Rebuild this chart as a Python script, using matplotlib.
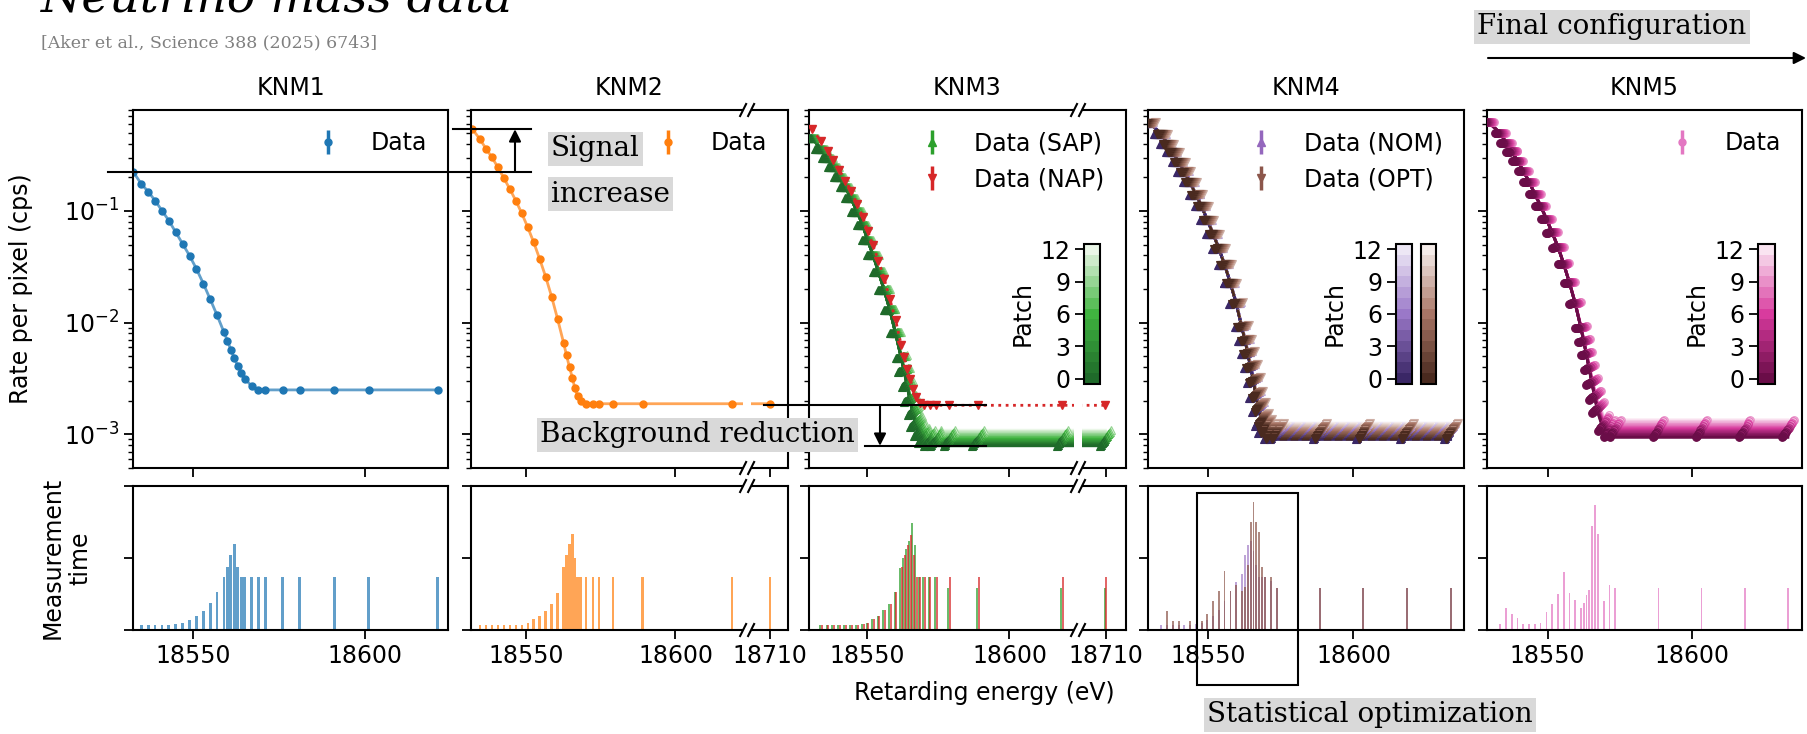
import numpy as np
import matplotlib
matplotlib.use("Agg")
import matplotlib.pyplot as plt
from matplotlib.colors import ListedColormap, BoundaryNorm, LinearSegmentedColormap
from matplotlib.cm import ScalarMappable
from matplotlib.patches import Rectangle, FancyArrowPatch
from matplotlib.lines import Line2D
from matplotlib.transforms import IdentityTransform

# ======================= data =======================
panel_names = ["KNM1", "KNM2", "KNM3", "KNM4", "KNM5"]
patch_ticks = [0, 3, 6, 9, 12]

knm1_energy = [18532.6, 18535, 18537, 18539, 18541, 18543, 18545, 18547, 18549, 18551,
               18553, 18555, 18557, 18559, 18560, 18561, 18562, 18563, 18564, 18565,
               18567, 18569, 18571, 18576, 18581, 18591, 18601, 18621]
knm1_rate = [0.225, 0.1745, 0.149, 0.1237, 0.1007, 0.0819, 0.0644, 0.0507, 0.0398, 0.0303,
             0.0224, 0.0162, 0.01164, 0.0082, 0.0069, 0.0057, 0.0048, 0.0041, 0.00357, 0.00316,
             0.00271, 0.00251, 0.0025, 0.0025, 0.0025, 0.0025, 0.0025, 0.0025]
knm1_time = [0, 0.033, 0.033, 0.033, 0.033, 0.033, 0.04, 0.051, 0.07, 0.096,
             0.133, 0.189, 0.263, 0.366, 0.44, 0.52, 0.6, 0.44, 0.366, 0.366,
             0.366, 0.366, 0.366, 0.366, 0.366, 0.366, 0.366, 0.366]

knm2_energy = [18532, 18534.5, 18536.5, 18538.5, 18540.5, 18542.5, 18544.5, 18546.5, 18548.5, 18550.5,
               18552.5, 18554.5, 18556.5, 18558.5, 18560.5, 18562.5, 18563.5, 18564.5, 18565.5, 18566.3,
               18567.2, 18568.2, 18570, 18572.3, 18574.4, 18579, 18589, 18619, 18710]
knm2_rate = [0.538, 0.438, 0.361, 0.302, 0.246, 0.197, 0.157, 0.1237, 0.0953, 0.0714,
             0.0524, 0.0372, 0.0258, 0.0171, 0.0108, 0.00662, 0.0051, 0.00398, 0.00318, 0.00258,
             0.00221, 0.00199, 0.00188, 0.00188, 0.00188, 0.00188, 0.00188, 0.00188, 0.00188]
knm2_time = [0, 0.033, 0.033, 0.033, 0.033, 0.033, 0.033, 0.033, 0.037, 0.051,
             0.075, 0.10, 0.133, 0.184, 0.26, 0.44, 0.52, 0.6, 0.67, 0.5,
             0.366, 0.366, 0.366, 0.366, 0.366, 0.366, 0.366, 0.366, 0.366]

knm3_energy = [18531, 18534, 18536.3, 18538.3, 18540.4, 18542.5, 18544.5, 18546.6, 18548.6, 18550.3,
               18552.2, 18554.1, 18556.1, 18558.1, 18560.1, 18562.1, 18563.1, 18564.2, 18565.2, 18566.3,
               18567.3, 18568.5, 18570, 18572, 18574.2, 18578.9, 18589, 18618.5, 18709.8]
knm3_sap_rate = [0.448, 0.357, 0.296, 0.249, 0.2, 0.163, 0.13, 0.0986, 0.075, 0.055,
                 0.0404, 0.0286, 0.0196, 0.013, 0.008, 0.0048, 0.00365, 0.00268, 0.00196, 0.00149,
                 0.00117, 0.00096, 0.00083, 0.00079, 0.00079, 0.00079, 0.00079, 0.00079, 0.00079]
knm3_nap_rate = [0.538, 0.418, 0.347, 0.286, 0.233, 0.187, 0.152, 0.1155, 0.089, 0.0667,
                 0.0493, 0.0359, 0.0248, 0.0163, 0.01057, 0.0063, 0.0049, 0.00388, 0.00311, 0.00257,
                 0.00218, 0.00192, 0.00183, 0.00182, 0.00182, 0.00182, 0.00182, 0.00182, 0.00182]
knm3_sap_time = [0, 0.033, 0.033, 0.033, 0.033, 0.033, 0.033, 0.033, 0.04, 0.051,
                 0.077, 0.098, 0.14, 0.184, 0.261, 0.43, 0.5, 0.56, 0.62, 0.74,
                 0.59, 0.366, 0.366, 0.366, 0.366, 0.29, 0.29, 0.29, 0.29]
knm3_nap_time = [0, 0.033, 0.033, 0.033, 0.033, 0.033, 0.033, 0.033, 0.04, 0.051,
                 0.077, 0.098, 0.14, 0.184, 0.261, 0.44, 0.52, 0.59, 0.66, 0.52,
                 0.366, 0.366, 0.366, 0.366, 0.366, 0.366, 0.366, 0.366, 0.366]
knm3_patch_bg = [0.0, 0.00002, 0.00004, 0.00006, 0.00008, 0.0001, 0.00012,
                 0.00015, 0.00018, 0.00021, 0.00024, 0.00027, 0.0003]

knm4_energy = [18529.5, 18533.8, 18535.8, 18537.7, 18539.8, 18541.7, 18543.7, 18545.7, 18547.7, 18549.6,
               18551.7, 18553.6, 18555.6, 18557.6, 18559.6, 18561.5, 18562.7, 18563.6, 18564.6, 18565.6,
               18566.5, 18567.5, 18568.6, 18569.6, 18571.5, 18573.6, 18588.4, 18603.4, 18618.4, 18633.5]
knm4_rate = [0.618, 0.49, 0.40, 0.335, 0.275, 0.225, 0.18, 0.14, 0.11, 0.083,
             0.062, 0.046, 0.033, 0.0225, 0.0148, 0.0091, 0.0068, 0.0052, 0.0039, 0.0029,
             0.0021, 0.0016, 0.0012, 0.00102, 0.0009, 0.0009, 0.0009, 0.0009, 0.0009, 0.0009]
knm4_nom_time = [0, 0.033, 0.033, 0.033, 0.033, 0.033, 0.033, 0.04, 0.05, 0.07,
                 0.1, 0.14, 0.2, 0.27, 0.33, 0.39, 0.52, 0.59, 0.62, 0.55,
                 0.45, 0.37, 0.37, 0.37, 0.34, 0.29, 0.29, 0.29, 0.29, 0.29]
knm4_opt_time = [0, 0, 0.133, 0.063, 0.063, 0, 0.063, 0, 0.063, 0.11,
                 0.2, 0.27, 0.41, 0.27, 0.31, 0.27, 0.3, 0.45, 0.75, 0.89,
                 0.75, 0.68, 0.44, 0.37, 0.37, 0.29, 0.29, 0.29, 0.29, 0.29]
knm4_patch_bg = [0.0, 0.00003, 0.00006, 0.00009, 0.00012, 0.00015, 0.00018,
                 0.00021, 0.00024, 0.00027, 0.0003, 0.00033, 0.00036]

knm5_energy = [18529.3, 18533.6, 18535.6, 18537.6, 18539.6, 18541.6, 18543.6, 18545.6, 18547.6, 18549.6,
               18551.6, 18553.7, 18555.6, 18557.6, 18559.6, 18561.6, 18562.6, 18563.5, 18564.5, 18565.5,
               18566.5, 18567.5, 18569.5, 18571.5, 18573.5, 18588.5, 18603.4, 18618.4, 18633.4]
knm5_rate = [0.63, 0.497, 0.409, 0.34, 0.2806, 0.228, 0.1828, 0.141, 0.111, 0.0848,
             0.064, 0.047, 0.0335, 0.0227, 0.0148, 0.0089, 0.0067, 0.0051, 0.00377, 0.00277,
             0.00205, 0.00155, 0.00107, 0.00094, 0.00094, 0.00094, 0.00094, 0.00094, 0.00094]
knm5_time = [0, 0.04, 0.156, 0.114, 0.086, 0.04, 0.04, 0.04, 0.047, 0.126,
             0.18, 0.25, 0.40, 0.26, 0.21, 0.15, 0.19, 0.245, 0.28, 0.72,
             0.865, 0.67, 0.2, 0.315, 0.29, 0.29, 0.29, 0.29, 0.29]
knm5_patch_bg = [0.0, 0.00003, 0.00006, 0.00009, 0.00012, 0.00015, 0.00018,
                 0.00021, 0.00025, 0.00029, 0.00033, 0.00037, 0.00041]

# ======================= layout / style =======================
W, H, DPI = 1808, 734, 100
FS = 17
plt.rcParams.update({
    "font.family": ["DejaVu Sans"],
    "axes.linewidth": 1.5,
})
SERIF = ["DejaVu Serif"]
GREYBOX = dict(boxstyle="square,pad=0.12", facecolor="#d9d9d9", edgecolor="none")

fig = plt.figure(figsize=(W / DPI, H / DPI), dpi=DPI)
fig.patch.set_facecolor("white")
ID = IdentityTransform()


def rect(x0, y0, x1, y1):
    return [x0 / W, 1 - y1 / H, (x1 - x0) / W, (y1 - y0) / H]


def dy(py):
    return H - py


panel_x = [(133, 448), (471, 788), (809, 1126), (1148, 1464), (1487, 1802)]
top_y, bot_y = (110, 468), (486, 630)
xlims = [(18532.6, 18624), (18531.5, 18716), (18529.8, 18717), (18529.2, 18638.1), (18529.0, 18638.3)]
breaks = [None, (18624, 18702.3), (18624, 18700.2), None, None]
xticks = [[18550, 18600], [18550, 18600, 18710], [18550, 18600, 18710], [18550, 18600], [18550, 18600]]
patch_dx = 0.33
light_to_dark = list(range(12, -1, -1))


def make_break(b1, b2):
    gap = b2 - b1

    def fwd(x):
        x = np.asarray(x, dtype=float)
        return np.where(x <= b1, x, np.where(x >= b2, x - gap, b1))

    def inv(x):
        x = np.asarray(x, dtype=float)
        return np.where(x <= b1, x, x + gap)
    return fwd, inv


def patch_colors(dark, mid, light, n=13):
    cm = LinearSegmentedColormap.from_list("c", [dark, mid, light])
    return [cm(i / (n - 1)) for i in range(n)]


green_cols = patch_colors("#1f6a2a", "#3fb43f", "#eaf6e7")
purple_cols = patch_colors("#3a2766", "#9a78c8", "#ede7f5")
brown_cols = patch_colors("#4a2a1f", "#a87565", "#f5ece9")
pink_cols = patch_colors("#6a0d48", "#d83a9e", "#fae4f1")

tops, bots = [], []
for i in range(5):
    x0, x1 = panel_x[i]
    at = fig.add_axes(rect(x0, top_y[0], x1, top_y[1]))
    ab = fig.add_axes(rect(x0, bot_y[0], x1, bot_y[1]))
    for ax in (at, ab):
        if breaks[i] is not None:
            ax.set_xscale("function", functions=make_break(*breaks[i]))
        ax.set_xlim(*xlims[i])
        ax.set_xticks(xticks[i], labels=[str(t) for t in xticks[i]])
        ax.tick_params(which="major", length=6.5, width=1.3, labelsize=FS)
        ax.tick_params(which="minor", length=3.5, width=1.0)
    at.set_yscale("log")
    at.set_ylim(5e-4, 0.8)
    at.tick_params(labelbottom=False)
    if i > 0:
        at.tick_params(which="both", labelleft=False)
    at.set_title(panel_names[i], fontsize=FS, pad=11)
    ab.set_ylim(0, 1)
    ab.set_yticks([0, 0.5, 1])
    ab.set_yticklabels([])
    tops.append(at)
    bots.append(ab)

tops[0].set_ylabel("Rate per pixel (cps)", fontsize=FS)
tops[0].yaxis.set_label_coords(-0.317, 0.5)
bots[0].set_ylabel("Measurement\ntime", fontsize=FS)
bots[0].yaxis.set_label_coords(-0.13, 0.5)

nanx, nany = [np.nan], [np.nan]

# ---------- KNM1 ----------
ax = tops[0]
ax.plot(knm1_energy, knm1_rate, "-", color="tab:blue", lw=2, alpha=0.7)
ax.errorbar(knm1_energy, knm1_rate, yerr=np.zeros(len(knm1_rate)), fmt="o", ms=5,
            color="tab:blue", elinewidth=2.5, label="Data")
ax.legend(loc="upper right", frameon=False, fontsize=FS)
bots[0].bar(knm1_energy, knm1_time, width=0.8, color="tab:blue", alpha=0.7)

# ---------- KNM2 ----------
ax = tops[1]
ax.plot(knm2_energy, knm2_rate, "-", color="tab:orange", lw=2, alpha=0.7)
ax.errorbar(knm2_energy, knm2_rate, yerr=np.zeros(len(knm2_rate)), fmt="o", ms=5,
            color="tab:orange", elinewidth=2.5, label="Data")
ax.legend(loc="upper right", frameon=False, fontsize=FS)
bots[1].bar(knm2_energy, knm2_time, width=0.8, color="tab:orange", alpha=0.7)

# ---------- KNM3 ----------
ax = tops[2]
e3 = np.array(knm3_energy)
for p in light_to_dark:
    r = np.array(knm3_sap_rate) + knm3_patch_bg[p]
    ax.plot(e3, r, "-", color=green_cols[p], lw=2, zorder=2)
for p in light_to_dark:
    r = np.array(knm3_sap_rate) + knm3_patch_bg[p]
    ax.plot(e3 + (p - 6) * patch_dx, r, "^", color=green_cols[p], ms=6, zorder=3,
            mec=green_cols[max(p - 3, 0)], mew=0.8)
ax.plot(e3, knm3_nap_rate, ":", color="tab:red", lw=2, zorder=4)
ax.plot(e3, knm3_nap_rate, "v", color="tab:red", ms=6, zorder=4)
ax.errorbar(nanx, nany, yerr=[0], fmt="^", ms=6, color="tab:green", elinewidth=2.5, label="Data (SAP)")
ax.errorbar(nanx, nany, yerr=[0], fmt="v", ms=6, color="tab:red", elinewidth=2.5, label="Data (NAP)")
ax.legend(loc="upper right", frameon=False, fontsize=FS)
bots[2].bar(e3 - 0.3, knm3_sap_time, width=0.7, color="tab:green", alpha=0.7)
bots[2].bar(e3 + 0.3, knm3_nap_time, width=0.7, color="tab:red", alpha=0.7)

# ---------- KNM4 ----------
ax = tops[3]
e4 = np.array(knm4_energy)
for p in light_to_dark:
    r = np.array(knm4_rate) + knm4_patch_bg[p]
    ax.plot(e4, r, "-", color=purple_cols[p], lw=2, zorder=2)
    ax.plot(e4, r, "--", color=brown_cols[p], lw=1.5, zorder=2.2)
for p in light_to_dark:
    r = np.array(knm4_rate) + knm4_patch_bg[p]
    ax.plot(e4 + (p - 6) * patch_dx - 0.4, r, "^", color=purple_cols[p], ms=6, zorder=3,
            mec=purple_cols[max(p - 3, 0)], mew=0.8)
for p in light_to_dark:
    r = np.array(knm4_rate) + knm4_patch_bg[p]
    ax.plot(e4 + (p - 6) * patch_dx + 0.4, r, "v", color=brown_cols[p], ms=6, zorder=5,
            mec=brown_cols[max(p - 3, 0)], mew=0.8)
ax.errorbar(nanx, nany, yerr=[0], fmt="^", ms=6, color="tab:purple", elinewidth=2.5, label="Data (NOM)")
ax.errorbar(nanx, nany, yerr=[0], fmt="v", ms=6, color="tab:brown", elinewidth=2.5, label="Data (OPT)")
ax.legend(loc="upper right", frameon=False, fontsize=FS)
bots[3].bar(e4, knm4_nom_time, width=0.6, color="tab:purple", alpha=0.6)
bots[3].bar(e4, knm4_opt_time, width=0.6, color="tab:brown", alpha=0.7)

# ---------- KNM5 ----------
ax = tops[4]
e5 = np.array(knm5_energy)
for p in light_to_dark:
    r = np.array(knm5_rate) + knm5_patch_bg[p]
    ax.plot(e5, r, "-", color=pink_cols[p], lw=2, zorder=2)
for p in light_to_dark:
    r = np.array(knm5_rate) + knm5_patch_bg[p]
    ax.plot(e5 + (p - 6) * patch_dx, r, "o", color=pink_cols[p], ms=5.5, zorder=3,
            mec=pink_cols[max(p - 3, 0)], mew=0.8)
ax.errorbar(nanx, nany, yerr=[0], fmt="o", ms=5, color="tab:pink", elinewidth=2.5, label="Data")
ax.legend(loc="upper right", frameon=False, fontsize=FS)
bots[4].bar(e5, knm5_time, width=0.6, color="tab:pink", alpha=0.7)


# ---------- colorbars ----------
def add_cbar(x0, x1, cols, labelled=True):
    cax = fig.add_axes(rect(x0, 244, x1, 384))
    cmap = ListedColormap(cols)
    norm = BoundaryNorm(np.arange(-0.5, 13.5, 1.0), cmap.N)
    cb = fig.colorbar(ScalarMappable(norm=norm, cmap=cmap), cax=cax, ticks=patch_ticks)
    cb.outline.set_linewidth(1.5)
    if labelled:
        cax.yaxis.set_ticks_position("left")
        cax.yaxis.set_label_position("left")
        cb.set_label("Patch", fontsize=FS)
        cax.tick_params(labelsize=FS, length=6.5, width=1.3)
    else:
        cax.set_yticks([])
    cax.minorticks_off()
    return cb


add_cbar(1084, 1100, green_cols)
add_cbar(1396, 1412, purple_cols)
add_cbar(1421, 1436, brown_cols, labelled=False)
add_cbar(1758, 1775, pink_cols)

# ---------- axis breaks (drawn inside the axes, below the legend) ----------
for i in (1, 2):
    for ax in (tops[i], bots[i]):
        b1 = breaks[i][0]
        bx = ax.transData.transform((b1, ax.get_ylim()[0]))[0]
        y0, y1 = ax.bbox.y0, ax.bbox.y1
        ax.add_patch(Rectangle((bx - 4, y0 - 4), 8, (y1 - y0) + 8, transform=ID,
                               facecolor="white", edgecolor="none", zorder=4.8, clip_on=False))
        for ys in (y0, y1):
            for sx in (bx - 4, bx + 4):
                ax.add_artist(Line2D([sx - 3, sx + 3], [ys - 6, ys + 6], transform=ID,
                                     color="black", lw=1.5, zorder=6, clip_on=False))


def level(ax, val):
    return ax.transData.transform((ax.get_xlim()[0], val))[1]


def hline(x0, x1, y):
    fig.add_artist(Line2D([x0, x1], [y, y], transform=ID, color="black", lw=1.5, zorder=7))


def varrow(x, ya, yb):
    fig.add_artist(FancyArrowPatch((x, ya), (x, yb), transform=ID, arrowstyle="-|>",
                                   mutation_scale=18, lw=1.5, color="black",
                                   shrinkA=0, shrinkB=0, zorder=7))


# Signal increase
y_lo = level(tops[0], knm1_rate[0])
y_hi = level(tops[1], knm2_rate[0])
hline(108, 531, y_lo)
hline(453, 531, y_hi)
varrow(515, y_lo, y_hi)
fig.text(551 / W, 1 - 149 / H, "Signal", fontsize=20, family=SERIF, ha="left", va="center",
         bbox=GREYBOX, zorder=8)
fig.text(551 / W, 1 - 194 / H, "increase", fontsize=20, family=SERIF, ha="left", va="center",
         bbox=GREYBOX, zorder=8)

# Background reduction
y_nap = level(tops[2], knm3_nap_rate[-1])
y_sap = level(tops[2], knm3_sap_rate[-1])
hline(764, 986, y_nap)
hline(865, 986, y_sap)
varrow(880, y_nap, y_sap)
fig.text(540 / W, 1 - 435 / H, "Background reduction", fontsize=20, family=SERIF, ha="left",
         va="center", bbox=GREYBOX, zorder=8)

# Statistical optimization
ax = bots[3]
rx0 = ax.transData.transform((18546, 0))[0]
rx1 = ax.transData.transform((18581, 0))[0]
fig.add_artist(Rectangle((rx0, dy(685)), rx1 - rx0, 685 - 493, transform=ID, fill=False,
                         edgecolor="black", lw=1.5, zorder=7))
fig.text(1370 / W, 1 - 715 / H, "Statistical optimization", fontsize=20, family=SERIF,
         ha="center", va="center", bbox=GREYBOX, zorder=8)

# Final configuration
fig.text(1477 / W, 1 - 27 / H, "Final configuration", fontsize=20, family=SERIF, ha="left",
         va="center", bbox=GREYBOX, zorder=8)
fig.add_artist(FancyArrowPatch((1488, dy(58)), (1806, dy(58)), transform=ID, arrowstyle="-|>",
                               mutation_scale=18, lw=1.5, color="black", shrinkA=0, shrinkB=0))

# header texts (the slide title is cut by the top edge, as in the reference)
fig.text(41 / W, 1 - 11 / H, "Neutrino mass data", fontsize=34, family=SERIF, style="italic",
         ha="left", va="baseline")
fig.text(41 / W, 1 - 43 / H, "[Aker et al., Science 388 (2025) 6743]", fontsize=12.5,
         family=SERIF, color="#808080", ha="left", va="center")

fig.text(984 / W, 1 - 693 / H, "Retarding energy (eV)", fontsize=FS, ha="center", va="center")

fig.savefig("out.png", dpi=DPI)
